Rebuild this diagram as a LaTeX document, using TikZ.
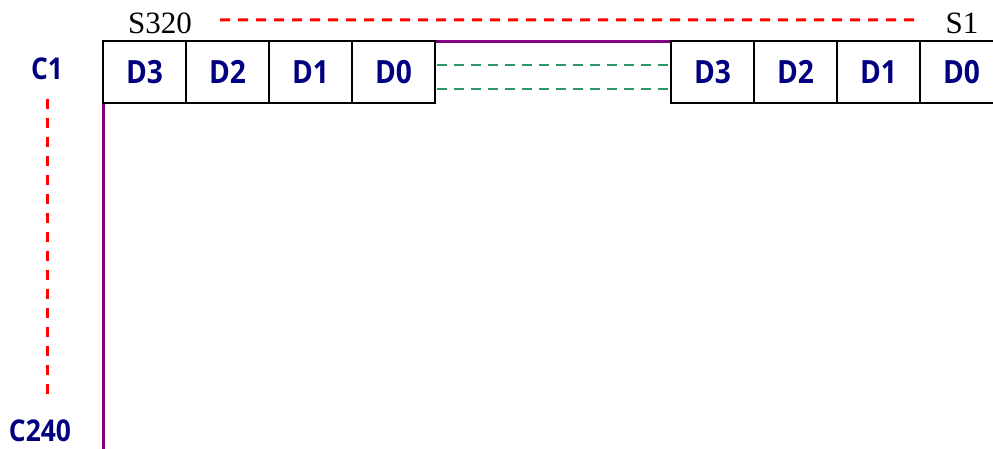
\documentclass[tikz,border=0pt]{standalone}
\usepackage{fontspec}
\setmainfont{Liberation Serif}
\newfontfamily\dfont[FakeStretch=0.88]{Open Sans}
\usetikzlibrary{calc}
\definecolor{navy}{RGB}{0,0,128}
\definecolor{scrpurple}{RGB}{128,0,128}
\definecolor{dgreen}{RGB}{46,150,100}
\definecolor{dred}{RGB}{255,0,0}
\begin{document}
\begin{tikzpicture}[x=1pt,y=-1pt,
  cell/.style={draw=black, line width=2.4pt, fill=white, minimum width=83pt, minimum height=62pt,
    inner sep=0pt, outer sep=0pt, anchor=north west, text=navy,
    font=\dfont\bfseries\fontsize{32}{34}\selectfont},
  rowlab/.style={text=navy, inner sep=0pt, font=\dfont\bfseries\fontsize{30}{32}\selectfont},
  collab/.style={inner sep=0pt, anchor=base, font=\fontsize{31}{33}\selectfont},
  reddash/.style={draw=dred, line width=3pt, dash pattern=on 10pt off 8pt},
  greendash/.style={draw=dgreen, line width=2.8pt, dash pattern=on 10pt off 7pt},
  screen/.style={draw=scrpurple, line width=3pt}]
\useasboundingbox (0,0) rectangle (993,448);
\clip (0,0) rectangle (993,448);
% screen outline
\coordinate (scrBL) at (103,460);
\coordinate (scrTL) at (103,41);
\coordinate (scrTR) at (1010,41);
\draw[screen] (scrBL) -- (scrTL) -- (scrTR);
% left group
\node[cell] (l3) at (103,41) {D3};
\node[cell] (l2) at (186,41) {D2};
\node[cell] (l1) at (269,41) {D1};
\node[cell] (l0) at (352,41) {D0};
% right group
\node[cell] (r3) at (671,41) {D3};
\node[cell] (r2) at (754,41) {D2};
\node[cell] (r1) at (837,41) {D1};
\node[cell] (r0) at (920,41) {D0};
% green dashed links
\draw[greendash] ([yshift=7pt,xshift=2pt]l0.east) -- ([yshift=7pt]r3.west);
\draw[greendash] ([yshift=-17pt,xshift=2pt]l0.east) -- ([yshift=-17pt]r3.west);
% column labels
\node[collab] (s320) at (160,33) {S320};
\node[collab] (s1) at (962,33) {S1};
\draw[reddash] ([xshift=28pt,yshift=3pt]s320.east) -- ([xshift=-25pt,yshift=3pt]s1.west);
% row labels
\node[rowlab] (c1) at (47,69) {C1};
\node[rowlab] (c240) at (40,431) {C240};
\draw[reddash, dash pattern=on 10pt off 9pt] ([yshift=-19pt]c1.south) -- ([yshift=20pt]c240.north -| c1.south);
\end{tikzpicture}
\end{document}
